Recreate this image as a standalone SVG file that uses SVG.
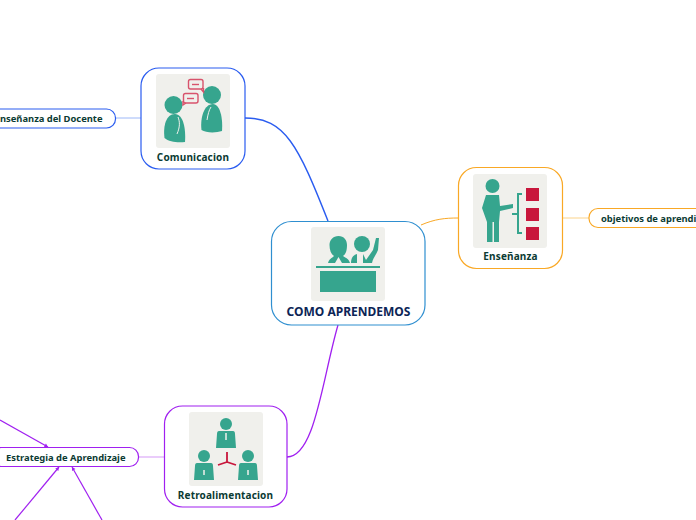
<svg xmlns="http://www.w3.org/2000/svg" width="696" height="520" viewBox="0 0 696 520">
<style>
text{font-family:"Noto Sans","DejaVu Sans",sans-serif;font-weight:700;fill:#0b3b33;text-anchor:middle}
.t{font-size:10px;letter-spacing:.15px}
.s{font-size:9.4px}
.box{fill:#fff;stroke-width:1.2}
.bg{fill:#f0f0ec}
.g{fill:#36a58e}
.r{fill:#c8173c}
.c{fill:none}
.o{fill:none;stroke:#d8536c;stroke-width:1.4}
</style>
<defs>
<marker id="ah" markerUnits="userSpaceOnUse" markerWidth="6" markerHeight="6" refX="4" refY="2.500" orient="auto"><path d="M0.500,0.500L4,2.500L0.500,4.500Z" fill="#a020f0"/></marker>
</defs>
<g id="connectors" class="c">
<path d="M245,118C285,118 298,145 328,221" stroke="#2a5cf0" stroke-width="1.4"/>
<path d="M421,225C435,219 445,218 458,218" stroke="#f9a825" stroke-width="1"/>
<path d="M338,325C322,380 315,457 287,457" stroke="#a020f0" stroke-width="1.3"/>
<path d="M115,118H141" stroke="#9db8f8"/>
<path d="M138,457H164" stroke="#dcaaf8" stroke-width="1.2"/>
<path d="M562,218H589" stroke="#fbd38a"/>
<path d="M0,420L48,447" stroke="#a020f0" stroke-width="1.2" marker-end="url(#ah)"/>
<path d="M15,520L59,467" stroke="#a020f0" stroke-width="1.2" marker-end="url(#ah)"/>
<path d="M102,520L72,467" stroke="#a020f0" stroke-width="1.2" marker-end="url(#ah)"/>
</g>
<g id="node-central">
<rect class="box" x="271.500" y="221.500" width="153.500" height="103.500" rx="20" stroke="#2f8fd0"/>
<rect class="bg" x="311" y="227" width="74" height="74" rx="3"/>
<path class="g" d="M328,263C329,259 332,258 334,256C331,254 329.500,250 329.500,245C329.500,240 333,236 338.500,236C344,236 347,240 347,245C347,250 346,254 343,256C346,258 349,259 350,263H342L338.500,257L335,263Z"/>
<circle class="g" cx="362" cy="244" r="8"/>
<path class="g" d="M351,263C351,258 353,255 357,254V263ZM363,263V254L366,260L373,250L376,238H379L378,250C376,255 373,258 372,263Z"/>
<rect class="g" x="316" y="266" width="64" height="2"/>
<rect class="g" x="320" y="271" width="56" height="21"/>
<text x="348.500" y="316" style="font-size:12px;fill:#0c2556">COMO APRENDEMOS</text>
</g>
<g id="node-comunicacion">
<rect class="box" x="141" y="68" width="104" height="101" rx="18" stroke="#2a5cf0"/>
<rect class="bg" x="156" y="74" width="74" height="74" rx="3"/>
<circle class="g" cx="173.500" cy="105" r="9"/>
<path class="g" d="M164.500,138C163,126 166,114 175,114C183,114 186,128 185,142C178,143 169,142 164.500,138Z"/>
<circle class="g" cx="212" cy="95" r="9"/>
<path class="g" d="M201.500,130C200,118 204,104 213,104C220,104 223,118 222,131C216,133 206,133 201.500,130Z"/>
<path d="M177,134C180,127 180,122 178,117" stroke="#f0f0ec" fill="none"/>
<path d="M207,120C208,114 209,110 211,107" stroke="#f0f0ec" fill="none"/>
<rect class="o" x="188.500" y="79.500" width="14.500" height="9.500" rx="2"/>
<path class="o" d="M192,84.500H199"/>
<path class="o" d="M201,89L203.500,92V88"/>
<rect class="o" x="183.500" y="93.500" width="14.500" height="9.500" rx="2"/>
<path class="o" d="M187,98.500H194"/>
<path class="o" d="M186,103L183,105V101"/>
<text class="t" x="193" y="161">Comunicacion</text>
</g>
<g id="node-ensenanza">
<rect class="box" x="458.500" y="167.500" width="104" height="101" rx="18" stroke="#f9a825"/>
<rect class="bg" x="473" y="174" width="74" height="74" rx="3"/>
<circle class="g" cx="492.500" cy="186" r="7"/>
<path class="g" d="M486,195H499L500,206L513,204V208L500,211L499,222V242H494V222H492.500V242H487V222L482,208Z"/>
<path d="M522,194H518V233H522M518,214H512" fill="none" stroke="#36a58e" stroke-width="2"/>
<rect class="r" x="526" y="188" width="13" height="13"/>
<rect class="r" x="526" y="208" width="13" height="13"/>
<rect class="r" x="526" y="227" width="13" height="13"/>
<text class="t" x="510.500" y="260">Enseñanza</text>
</g>
<g id="node-retroalimentacion">
<rect class="box" x="164.500" y="406" width="122.500" height="101" rx="18" stroke="#a020f0"/>
<rect class="bg" x="189" y="412" width="74" height="74" rx="3"/>
<circle class="g" cx="226" cy="424" r="6"/>
<path class="g" d="M219,431H233Q235,431 235,434L236,448H216L217,434Q217,431 219,431Z"/>
<circle class="g" cx="204" cy="456" r="6"/>
<path class="g" d="M197,463H211Q213,463 213,466L214,480H194L195,466Q195,463 197,463Z"/>
<circle class="g" cx="248" cy="456" r="6"/>
<path class="g" d="M241,463H255Q257,463 257,466L258,480H238L239,466Q239,463 241,463Z"/>
<path d="M226,433V440M204,470V475M248,470V475" stroke="#f0f0ec" stroke-width="1.500"/>
<path d="M227,452V462M227,462L218,465M227,462L236,465" stroke="#c8173c" stroke-width="1.800" fill="none"/>
<text class="t" x="225.500" y="499">Retroalimentacion</text>
</g>
<g id="node-docente">
<rect class="box" x="-20" y="109" width="135.500" height="19" rx="9" stroke="#2a5cf0"/>
<text class="s" x="102.500" y="122" style="text-anchor:end">Enseñanza del Docente</text>
</g>
<g id="node-objetivos">
<rect class="box" x="589" y="208.500" width="140" height="19" rx="9" stroke="#f9a825"/>
<text class="s" x="601" y="222" style="text-anchor:start">objetivos de aprendizaje</text>
</g>
<g id="node-estrategia">
<rect class="box" x="-8" y="447.500" width="146.500" height="19" rx="9" stroke="#a020f0"/>
<text class="s" x="6" y="460.500" style="text-anchor:start">Estrategia de Aprendizaje</text>
</g>
</svg>
